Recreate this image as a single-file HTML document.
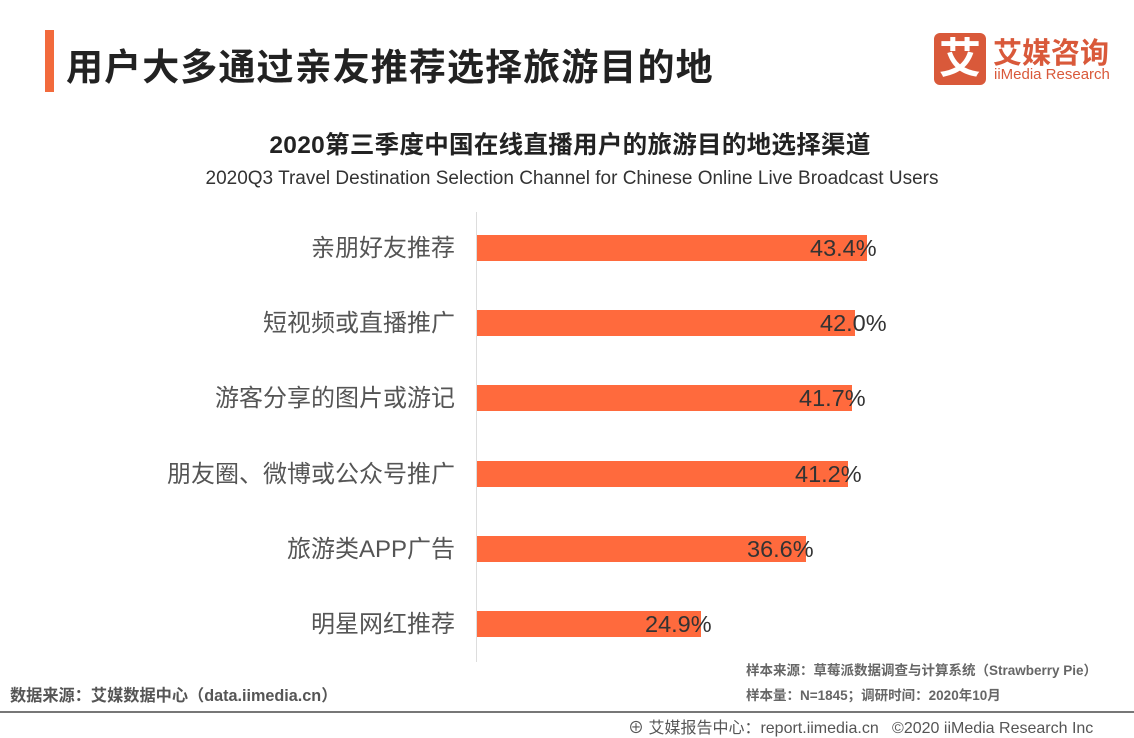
<!DOCTYPE html>
<html><head><meta charset="utf-8"><style>
body{margin:0;width:1134px;height:737px;background:#fff;position:relative;overflow:hidden;font-family:"Liberation Sans","Noto Sans CJK SC",sans-serif}
.a{position:absolute;white-space:nowrap}
.lab{position:absolute;right:679px;font-size:24px;color:#555;line-height:26px}
.bar{position:absolute;left:477px;height:26px;background:#ff6a3d}
.val{position:absolute;font-size:23.5px;color:#333;line-height:26px}
</style></head><body>
<div class="a" style="left:45px;top:30px;width:9px;height:62px;background:#f26a3c"></div>
<div class="a" style="left:66px;top:37px;font-size:37px;font-weight:bold;color:#222;letter-spacing:1.1px">用户大多通过亲友推荐选择旅游目的地</div>
<div class="a" style="left:934px;top:33px;width:52px;height:52px;background:#d9593a;border-radius:6px;color:#fff;font-size:42px;font-weight:bold;text-align:center;line-height:52px">艾</div>
<div class="a" style="left:993px;top:30px;font-size:29px;font-weight:bold;color:#d9593a">艾媒咨询</div>
<div class="a" style="left:994px;top:66px;font-size:15px;color:#d9593a">iiMedia Research</div>
<div class="a" style="left:0;width:1140px;text-align:center;top:126px;font-size:24.5px;font-weight:bold;color:#222;letter-spacing:0.3px">2020第三季度中国在线直播用户的旅游目的地选择渠道</div>
<div class="a" style="left:0;width:1144px;text-align:center;top:168px;font-size:19px;color:#333">2020Q3 Travel Destination Selection Channel for Chinese Online Live Broadcast Users</div>
<div class="a" style="left:476px;top:212px;width:1px;height:450px;background:#ddd"></div>

<div class="lab" style="top:236px">亲朋好友推荐</div><div class="bar" style="top:235px;width:390px"></div><div class="val" style="left:810px;top:235px">43.4%</div>
<div class="lab" style="top:311px">短视频或直播推广</div><div class="bar" style="top:310px;width:378px"></div><div class="val" style="left:820px;top:310px">42.0%</div>
<div class="lab" style="top:386px">游客分享的图片或游记</div><div class="bar" style="top:385px;width:375px"></div><div class="val" style="left:799px;top:385px">41.7%</div>
<div class="lab" style="top:462px">朋友圈、微博或公众号推广</div><div class="bar" style="top:461px;width:371px"></div><div class="val" style="left:795px;top:461px">41.2%</div>
<div class="lab" style="top:537px">旅游类APP广告</div><div class="bar" style="top:536px;width:329px"></div><div class="val" style="left:747px;top:536px">36.6%</div>
<div class="lab" style="top:612px">明星网红推荐</div><div class="bar" style="top:611px;width:224px"></div><div class="val" style="left:645px;top:611px">24.9%</div>

<div class="a" style="left:10px;top:682px;font-size:16.2px;font-weight:bold;color:#555">数据来源：艾媒数据中心（data.iimedia.cn）</div>
<div class="a" style="left:746px;top:659px;font-size:13.5px;font-weight:bold;color:#666">样本来源：草莓派数据调查与计算系统（Strawberry Pie）</div>
<div class="a" style="left:746px;top:684px;font-size:13.5px;font-weight:bold;color:#666">样本量：N=1845；调研时间：2020年10月</div>
<div class="a" style="left:0;top:711px;width:1134px;height:2px;background:#777"></div>
<div class="a" style="left:628px;top:714px;font-size:16px;color:#555">⊕ 艾媒报告中心：report.iimedia.cn &nbsp; ©2020 iiMedia Research Inc</div>
</body></html>
